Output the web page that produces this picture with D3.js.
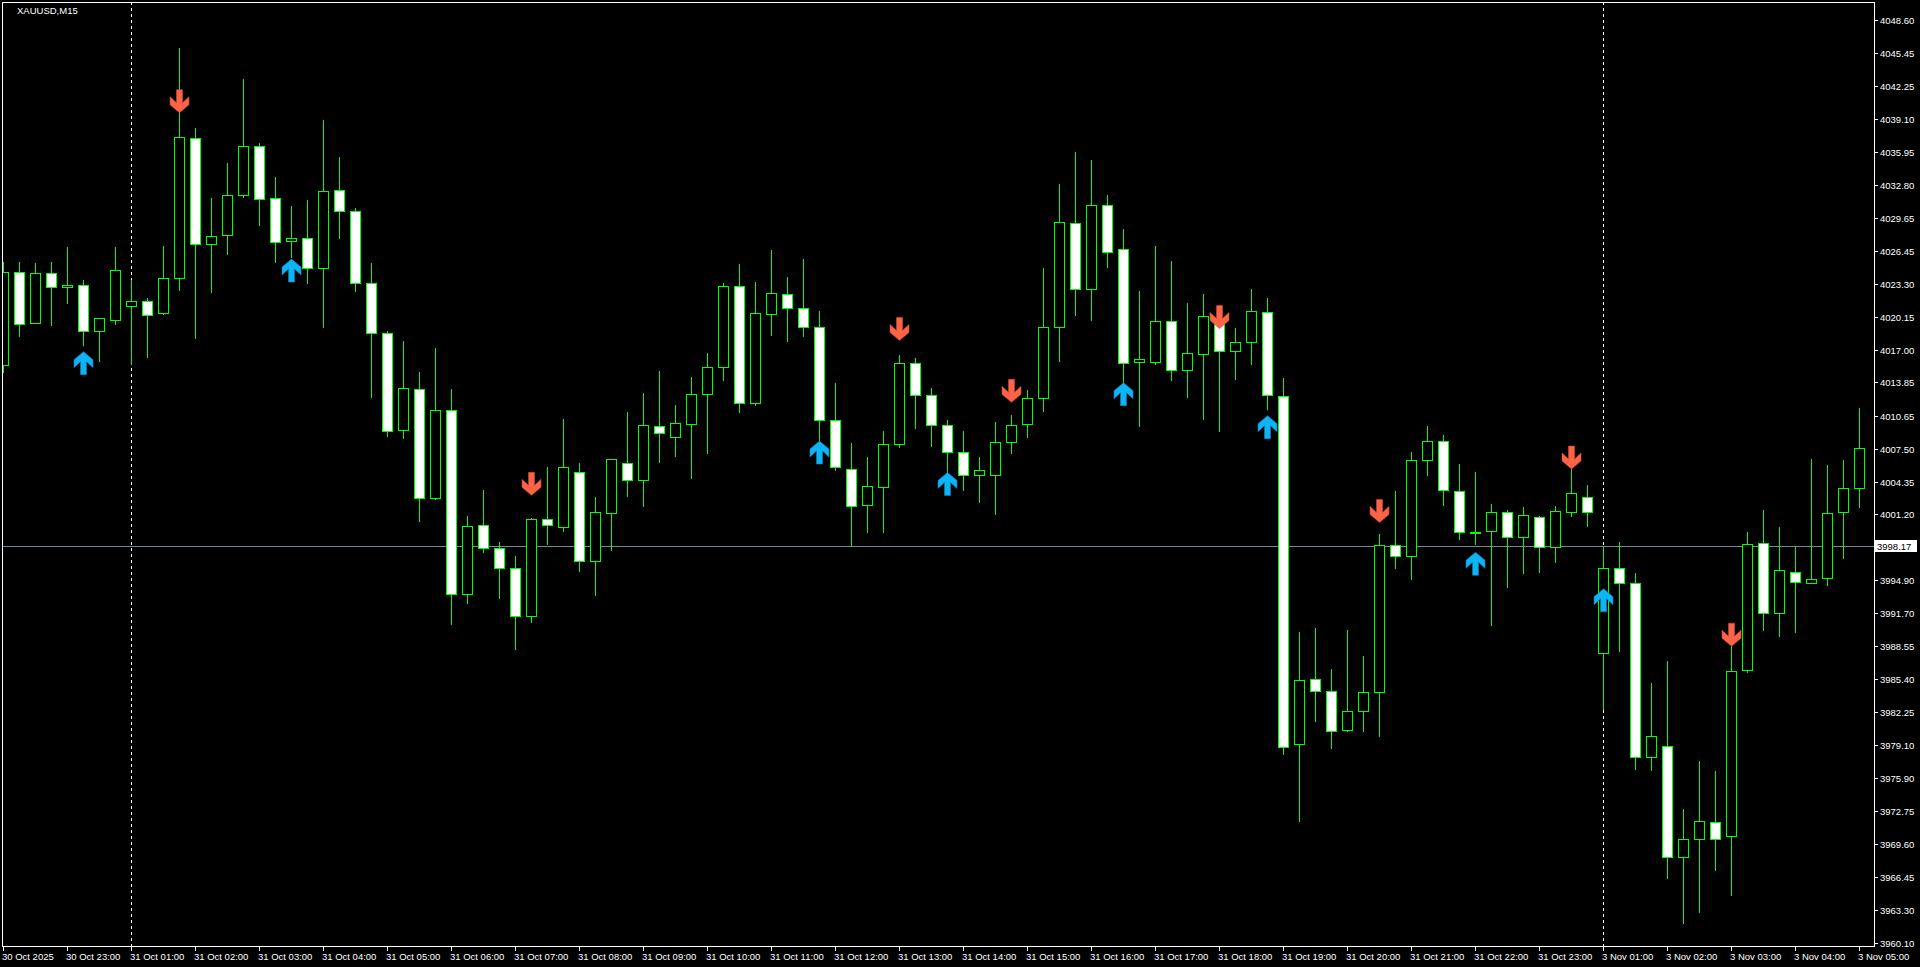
<!DOCTYPE html>
<html>
<head>
<meta charset="utf-8">
<title>XAUUSD,M15</title>
<script src="https://cdn.jsdelivr.net/npm/d3@7"></script>
<style>
  html, body { margin: 0; padding: 0; background: #000; overflow: hidden; }
  svg { display: block; }
  text { font-family: "Liberation Sans", Arial, sans-serif; font-size: 9.5px; fill: #fff; }
</style>
</head>
<body>
<div id="chart"></div>
<script>
// XAUUSD M15 bars, oldest first (30 Oct 22:00 ... 3 Nov 05:00)
var opens = [
  4015.49, 4024.40, 4019.58, 4024.31, 4022.97, 4023.16, 4018.75, 4019.80, 4021.14, 4021.62,
  4020.47, 4023.83, 4037.25, 4027.09, 4027.95, 4031.79, 4036.48, 4031.50, 4027.38, 4027.66,
  4024.79, 4032.30, 4030.25, 4023.35, 4018.56, 4009.26, 4013.19, 4002.74, 4011.17, 3993.53,
  4000.15, 3997.94, 3996.02, 3991.42, 4000.72, 3999.96, 4005.23, 3996.70, 4001.30, 4006.09,
  4004.46, 4009.70, 4008.58, 4009.83, 4012.70, 4015.29, 4023.06, 4011.90, 4020.37, 4022.29,
  4020.95, 4019.13, 4010.21, 4005.51, 4002.12, 4003.85, 4007.91, 4015.67, 4012.61, 4009.73,
  4007.14, 4005.00, 4005.00, 4008.13, 4009.89, 4012.32, 4019.19, 4029.10, 4022.84, 4030.83,
  4026.61, 4015.77, 4015.84, 4019.70, 4015.01, 4016.61, 4019.67, 4016.83, 4017.69, 4020.60,
  4012.55, 3979.15, 3985.38, 3984.23, 3980.49, 3982.31, 3984.13, 3998.23, 3997.17, 4006.38,
  4008.20, 4003.41, 3999.48, 3999.57, 4001.39, 3998.99, 4000.91, 3998.04, 4001.40, 4002.89,
  3987.88, 3996.01, 3994.59, 3977.89, 3979.03, 3968.30, 3970.11, 3971.67, 3970.40, 3986.32,
  3998.41, 3991.70, 3995.63, 3994.59, 3995.14, 4001.40, 4003.70
];
var highs = [
  4025.43, 4025.43, 4025.30, 4025.43, 4026.83, 4023.67, 4019.99, 4026.83, 4023.67, 4021.94,
  4026.93, 4045.91, 4038.24, 4031.53, 4034.89, 4042.94, 4036.80, 4033.54, 4030.76, 4031.34,
  4039.01, 4035.50, 4030.57, 4025.30, 4018.78, 4017.82, 4014.85, 4017.15, 4013.22, 4001.04,
  4003.53, 3998.55, 3997.21, 4000.82, 4005.74, 4010.34, 4006.12, 4002.90, 4006.48, 4011.01,
  4012.83, 4014.94, 4011.68, 4014.36, 4016.67, 4023.38, 4025.20, 4023.47, 4026.54, 4023.95,
  4025.68, 4020.69, 4013.79, 4008.04, 4006.69, 4009.19, 4016.44, 4016.19, 4013.31, 4010.24,
  4009.19, 4006.70, 4010.05, 4010.69, 4013.09, 4024.82, 4032.87, 4035.94, 4035.17, 4031.82,
  4028.52, 4022.61, 4026.93, 4025.49, 4021.46, 4022.32, 4020.50, 4019.03, 4022.80, 4021.99,
  4014.30, 3989.89, 3990.27, 3986.37, 3990.11, 3987.62, 3999.31, 4003.44, 4007.18, 4009.67,
  4008.81, 4006.03, 4005.26, 4002.19, 4001.62, 4001.90, 4001.04, 4002.00, 4005.55, 4004.05,
  3998.09, 3998.54, 3995.56, 3985.02, 3987.13, 3972.93, 3977.54, 3976.56, 3988.56, 3999.48,
  4001.62, 3999.97, 3998.09, 4006.49, 4005.94, 4006.39, 4011.38
];
var lows = [
  4014.88, 4018.33, 4019.50, 4019.35, 4021.46, 4017.47, 4015.93, 4019.48, 4015.61, 4016.32,
  4020.40, 4022.74, 4018.14, 4022.55, 4026.19, 4031.66, 4028.97, 4025.43, 4025.91, 4023.41,
  4019.19, 4027.73, 4022.65, 4012.48, 4008.74, 4008.55, 4000.59, 4002.70, 3990.72, 3992.73,
  3997.62, 3993.21, 3988.32, 3990.91, 3998.39, 3999.64, 3995.80, 3993.50, 3997.81, 4002.99,
  4002.03, 4006.25, 4006.82, 4004.71, 4007.11, 4014.11, 4011.04, 4011.71, 4018.39, 4017.85,
  4018.33, 4008.32, 4005.45, 3998.16, 3999.53, 3999.53, 4007.68, 4009.51, 4007.78, 4005.29,
  4003.50, 4002.40, 4001.23, 4007.08, 4008.65, 4011.14, 4015.93, 4020.34, 4019.86, 4024.95,
  4013.92, 4009.70, 4015.64, 4014.11, 4012.48, 4010.37, 4009.22, 4014.21, 4015.64, 4011.27,
  3978.19, 3971.83, 3981.42, 3978.76, 3980.40, 3980.46, 3979.98, 3996.09, 3994.97, 4005.00,
  4002.13, 3998.87, 3998.39, 3990.62, 3994.20, 3995.61, 3995.70, 3996.66, 4001.07, 4000.10,
  3982.56, 3988.10, 3976.82, 3976.69, 3966.35, 3961.97, 3963.11, 3967.06, 3964.73, 3986.13,
  3990.15, 3989.56, 3989.95, 3994.59, 3994.46, 3997.05, 4001.92
];
var closes = [
  4024.40, 4019.48, 4024.31, 4023.03, 4023.16, 4018.75, 4019.99, 4024.60, 4021.62, 4020.28,
  4023.83, 4037.35, 4027.09, 4027.86, 4031.79, 4036.48, 4031.47, 4027.28, 4027.66, 4024.85,
  4032.17, 4030.26, 4023.35, 4018.56, 4009.16, 4013.28, 4002.74, 4011.17, 3993.53, 4000.05,
  3997.94, 3996.02, 3991.42, 4000.72, 4000.15, 4005.71, 3996.70, 4001.39, 4006.48, 4004.46,
  4009.73, 4008.96, 4009.92, 4012.70, 4015.29, 4023.06, 4011.90, 4020.47, 4022.39, 4020.95,
  4019.13, 4010.21, 4005.70, 4001.96, 4003.88, 4007.91, 4015.67, 4012.61, 4009.73, 4007.14,
  4005.00, 4005.50, 4008.13, 4009.73, 4012.32, 4019.13, 4029.20, 4022.84, 4030.83, 4026.38,
  4015.74, 4016.06, 4019.70, 4015.07, 4016.64, 4020.18, 4016.83, 4017.69, 4020.66, 4012.61,
  3978.86, 3985.32, 3984.23, 3980.39, 3982.31, 3984.13, 3998.23, 3997.17, 4006.38, 4008.20,
  4003.50, 3999.51, 3999.48, 4001.39, 3998.99, 4001.10, 3998.04, 4001.49, 4003.21, 4001.40,
  3996.01, 3994.59, 3977.89, 3979.90, 3968.30, 3970.11, 3971.83, 3970.11, 3986.22, 3998.32,
  3991.70, 3995.82, 3994.69, 3995.04, 4001.30, 4003.70, 4007.52
];

// signal arrows: bar index + price at the arrow tip
var upArrowBars = [5, 18, 51, 59, 70, 79, 92, 100];
var upArrowPrices = [4016.80, 4025.68, 4008.23, 4005.22, 4013.82, 4010.66, 3997.56, 3994.07];
var downArrowBars = [11, 33, 56, 63, 76, 86, 98, 108];
var downArrowPrices = [4039.71, 4003.02, 4017.88, 4011.94, 4019.03, 4000.43, 4005.55, 3988.56];

// day separators (first bar of 31 Oct and 3 Nov)
var separatorBars = [8, 100];

var bidPrice = 3998.17;

var priceTicks = ["4048.60", "4045.45", "4042.25", "4039.10", "4035.95", "4032.80", "4029.65",
  "4026.45", "4023.30", "4020.15", "4017.00", "4013.85", "4010.65", "4007.50", "4004.35",
  "4001.20", "3994.90", "3991.70", "3988.55", "3985.40", "3982.25", "3979.10", "3975.90",
  "3972.75", "3969.60", "3966.45", "3963.30", "3960.10"];

// one label every 4 bars (hourly)
var timeLabels = ["30 Oct 2025", "30 Oct 23:00", "31 Oct 01:00", "31 Oct 02:00", "31 Oct 03:00",
  "31 Oct 04:00", "31 Oct 05:00", "31 Oct 06:00", "31 Oct 07:00", "31 Oct 08:00", "31 Oct 09:00",
  "31 Oct 10:00", "31 Oct 11:00", "31 Oct 12:00", "31 Oct 13:00", "31 Oct 14:00", "31 Oct 15:00",
  "31 Oct 16:00", "31 Oct 17:00", "31 Oct 18:00", "31 Oct 19:00", "31 Oct 20:00", "31 Oct 21:00",
  "31 Oct 22:00", "31 Oct 23:00", "3 Nov 01:00", "3 Nov 02:00", "3 Nov 03:00", "3 Nov 04:00",
  "3 Nov 05:00"];

var width = 1920, height = 967;
var plot = {left: 2, top: 2, right: 1874, bottom: 946};

var svg = d3.select("#chart").append("svg")
  .attr("width", width)
  .attr("height", height)
  .style("background", "#000");

var x = d3.scaleLinear().domain([0, opens.length - 1]).range([3, 1859]);
var y = d3.scaleLinear().domain([3960.10, 4048.60]).range([943, 20]);

svg.append("defs").append("clipPath").attr("id", "plotclip")
  .append("rect")
  .attr("x", plot.left + 1).attr("y", plot.top + 1)
  .attr("width", plot.right - plot.left - 1)
  .attr("height", plot.bottom - plot.top - 1);

var g = svg.append("g").attr("clip-path", "url(#plotclip)");

// period separators
g.selectAll(".sep")
  .data(separatorBars)
  .enter()
  .append("line")
  .attr("x1", function(d) { return Math.round(x(d)) + 0.5; })
  .attr("x2", function(d) { return Math.round(x(d)) + 0.5; })
  .attr("y1", plot.top)
  .attr("y2", plot.bottom)
  .attr("stroke", "#ffffff")
  .attr("stroke-dasharray", "3,3")
  .attr("shape-rendering", "crispEdges");

// bid line
g.append("line")
  .attr("x1", plot.left)
  .attr("x2", plot.right)
  .attr("y1", Math.round(y(bidPrice)) + 0.5)
  .attr("y2", Math.round(y(bidPrice)) + 0.5)
  .attr("stroke", "#778899")
  .attr("shape-rendering", "crispEdges");

// candles
var bars = opens.map(function(o, i) {
  return {i: i, o: o, h: highs[i], l: lows[i], c: closes[i]};
});

var candle = g.selectAll(".candle")
  .data(bars)
  .enter()
  .append("g")
  .attr("class", "candle")
  .attr("shape-rendering", "crispEdges");

candle.append("line")
  .attr("x1", function(d) { return Math.round(x(d.i)) + 0.5; })
  .attr("x2", function(d) { return Math.round(x(d.i)) + 0.5; })
  .attr("y1", function(d) { return Math.round(y(d.h)); })
  .attr("y2", function(d) { return Math.round(y(d.l)) + 1; })
  .attr("stroke", "#00ff00");

candle.append("rect")
  .attr("x", function(d) { return Math.round(x(d.i)) - 5 + 0.5; })
  .attr("y", function(d) { return Math.round(y(Math.max(d.o, d.c))) + 0.5; })
  .attr("width", 10)
  .attr("height", function(d) {
    var h = Math.round(y(Math.min(d.o, d.c))) - Math.round(y(Math.max(d.o, d.c)));
    return Math.max(h, 1);
  })
  .attr("fill", function(d) { return d.c >= d.o ? "#000000" : "#ffffff"; })
  .attr("stroke", "#00ff00");

// arrows, tip at (0,0)
var downPath = "M-3,-23L3,-23L3,-10L9.5,-16L9.5,-8L0,0L-9.5,-8L-9.5,-16L-3,-10Z";
var upPath = "M-3,23L3,23L3,10L9.5,16L9.5,8L0,0L-9.5,8L-9.5,16L-3,10Z";

g.selectAll(".up")
  .data(upArrowBars)
  .enter()
  .append("path")
  .attr("d", upPath)
  .attr("transform", function(d, k) {
    return "translate(" + (Math.round(x(d)) + 0.5) + "," + y(upArrowPrices[k]) + ")";
  })
  .attr("fill", "#0fb4f5")
  .attr("stroke", "#0a7fc0")
  .attr("stroke-width", 0.6);

g.selectAll(".down")
  .data(downArrowBars)
  .enter()
  .append("path")
  .attr("d", downPath)
  .attr("transform", function(d, k) {
    return "translate(" + (Math.round(x(d)) + 0.5) + "," + y(downArrowPrices[k]) + ")";
  })
  .attr("fill", "#ff6347")
  .attr("stroke", "#c84a35")
  .attr("stroke-width", 0.6);

// frame
svg.append("rect")
  .attr("x", plot.left + 0.5)
  .attr("y", plot.top + 0.5)
  .attr("width", plot.right - plot.left)
  .attr("height", plot.bottom - plot.top)
  .attr("fill", "none")
  .attr("stroke", "#ffffff")
  .attr("shape-rendering", "crispEdges");

// price scale
var py = svg.selectAll(".ptick")
  .data(priceTicks)
  .enter()
  .append("g")
  .attr("transform", function(d) { return "translate(0," + Math.round(y(+d)) + ")"; });

py.append("line")
  .attr("x1", plot.right + 1).attr("x2", plot.right + 4)
  .attr("y1", 0.5).attr("y2", 0.5)
  .attr("stroke", "#ffffff")
  .attr("shape-rendering", "crispEdges");

py.append("text")
  .attr("x", plot.right + 6)
  .attr("y", 4)
  .text(function(d) { return d; });

// bid label
var by = Math.round(y(bidPrice));
svg.append("rect")
  .attr("x", plot.right + 1).attr("y", by - 6)
  .attr("width", 42).attr("height", 12)
  .attr("fill", "#ffffff");
svg.append("text")
  .attr("x", plot.right + 3)
  .attr("y", by + 4)
  .style("fill", "#000000")
  .text(bidPrice.toFixed(2));

// time scale
var tx = svg.selectAll(".ttick")
  .data(timeLabels)
  .enter()
  .append("g")
  .attr("transform", function(d, k) { return "translate(" + Math.round(x(k * 4)) + ",0)"; });

tx.append("line")
  .attr("x1", 0.5).attr("x2", 0.5)
  .attr("y1", plot.bottom + 1).attr("y2", plot.bottom + 5)
  .attr("stroke", "#ffffff")
  .attr("shape-rendering", "crispEdges");

tx.append("text")
  .attr("x", -1)
  .attr("y", 960)
  .text(function(d) { return d; });

// symbol caption
svg.append("text")
  .attr("x", 17)
  .attr("y", 14)
  .text("XAUUSD,M15");
</script>
</body>
</html>
